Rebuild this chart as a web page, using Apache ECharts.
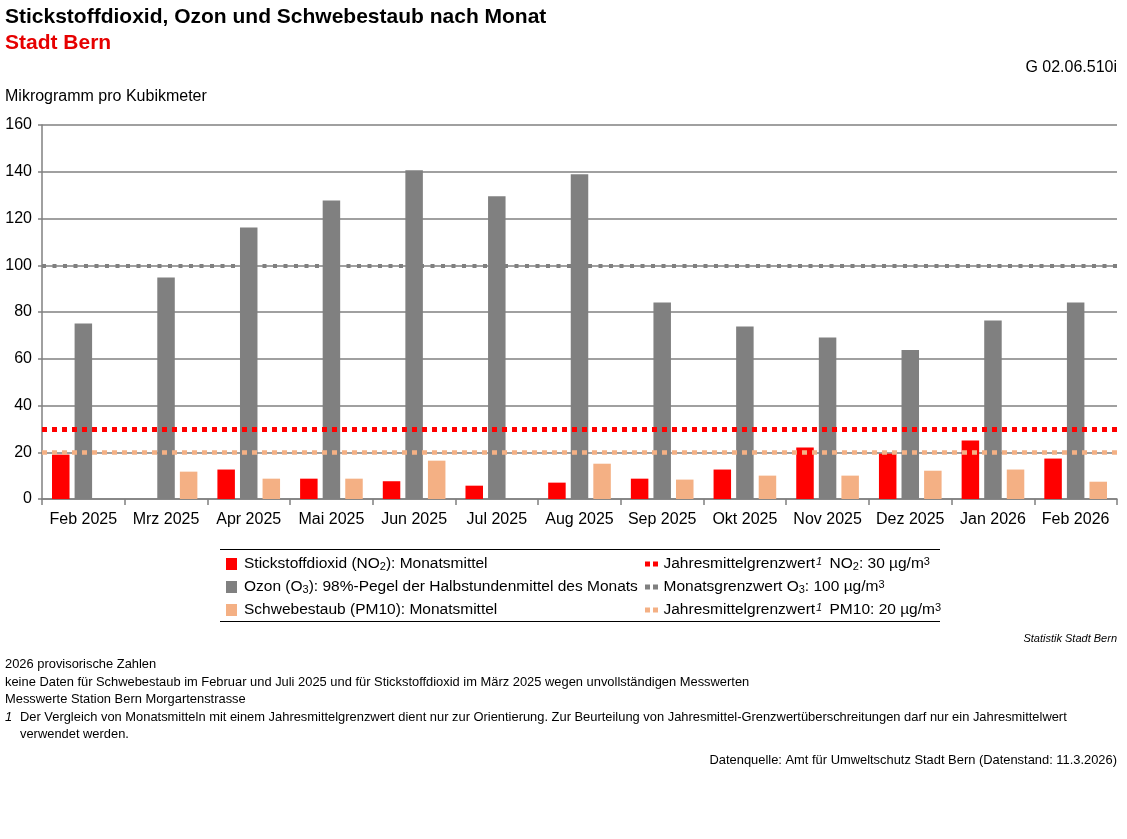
<!DOCTYPE html>
<html>
<head>
<meta charset="utf-8">
<script src="https://cdn.jsdelivr.net/npm/echarts@6/dist/echarts.min.js"></script>
<style>
html,body{margin:0;padding:0;background:#fff;}
#chart{width:1127px;height:839px;}
</style>
</head>
<body>
<div id="chart"></div>
<script>
var categories = ['Feb 2025','Mrz 2025','Apr 2025','Mai 2025','Jun 2025','Jul 2025','Aug 2025','Sep 2025','Okt 2025','Nov 2025','Dez 2025','Jan 2026','Feb 2026'];
var no2 = [19.0, null, 12.6, 8.7, 7.6, 5.7, 7.0, 8.7, 12.6, 22.0, 19.4, 25.0, 17.3];
var o3 = [75.1, 94.8, 116.2, 127.7, 140.6, 129.5, 138.9, 84.1, 73.8, 69.1, 63.7, 76.4, 84.1];
var pm10 = [null, 11.7, 8.7, 8.7, 16.4, null, 15.1, 8.3, 10.0, 10.0, 12.1, 12.6, 7.4];
var limitNO2 = 30;
var limitO3 = 100;
var limitPM10 = 20;
var yTicks = [0, 20, 40, 60, 80, 100, 120, 140, 160];

var FONT = '"Liberation Sans", Arial, sans-serif';
var RED = '#ff0000', GRAY = '#808080', PEACH = '#f4b084';
var richStyles = {
  sub: {fontSize: 11, fontFamily: FONT, color: '#000', verticalAlign: 'bottom', padding: [8, 0, 0, 0]},
  sup: {fontSize: 11, fontFamily: FONT, color: '#000', verticalAlign: 'top', padding: [0, 0, 7, 0]},
  isup: {fontSize: 11, fontFamily: FONT, fontStyle: 'italic', color: '#000', verticalAlign: 'top', padding: [0, 3, 7, 1]}
};
var labelMap = {
  'NO2': 'Stickstoffdioxid (NO{sub|2}): Monatsmittel',
  'O3': 'Ozon (O{sub|3}): 98%-Pegel der Halbstundenmittel des Monats',
  'PM10': 'Schwebestaub (PM10): Monatsmittel',
  'GW_NO2': 'Jahresmittelgrenzwert{isup|1} NO{sub|2}: 30 µg/m{sup|3}',
  'GW_O3': 'Monatsgrenzwert O{sub|3}: 100 µg/m{sup|3}',
  'GW_PM10': 'Jahresmittelgrenzwert{isup|1} PM10: 20 µg/m{sup|3}'
};
var dotsIcon = 'path://M0,0h5v5h-5z M8,0h5v5h-5z';

function limitSeries(name, value, color, width, dash) {
  return {
    name: name, type: 'line', data: [], color: color,
    itemStyle: {color: color},
    markLine: {
      silent: true, symbol: 'none', label: {show: false},
      lineStyle: {color: color, width: width, type: dash, cap: 'butt'},
      emphasis: {disabled: true},
      data: [{yAxis: value}]
    },
    z: 5
  };
}

var chart = echarts.init(document.getElementById('chart'));
var option = {
  animation: false,
  backgroundColor: '#fff',
  textStyle: {fontFamily: FONT},
  grid: {left: 42, right: 10, top: 125, bottom: 340, containLabel: false},
  xAxis: {
    type: 'category', data: categories,
    axisLine: {lineStyle: {color: GRAY, width: 1.5}},
    axisTick: {show: true, interval: 0, length: 6, lineStyle: {color: GRAY, width: 1.5}},
    axisLabel: {interval: 0, color: '#000', fontSize: 16, fontFamily: FONT, margin: 13}
  },
  yAxis: {
    type: 'value', min: yTicks[0], max: yTicks[yTicks.length - 1], interval: 20,
    axisLine: {show: true, lineStyle: {color: GRAY, width: 1.5}},
    axisTick: {show: true, length: 4, lineStyle: {color: GRAY, width: 1.5}},
    splitLine: {lineStyle: {color: GRAY, width: 1.5}},
    axisLabel: {color: '#000', fontSize: 16, fontFamily: FONT, margin: 10}
  },
  legend: [
    {
      left: 226, top: 556, orient: 'vertical', itemGap: 7, itemWidth: 11, itemHeight: 12,
      padding: 0, selectedMode: false, icon: 'rect',
      data: ['NO2', 'O3', 'PM10'],
      formatter: function (n) { return labelMap[n]; },
      textStyle: {fontSize: 15.5, fontFamily: FONT, color: '#000', lineHeight: 16, padding: [0, 0, 0, 2], rich: richStyles}
    },
    {
      left: 645, top: 556, orient: 'vertical', itemGap: 7, itemWidth: 14, itemHeight: 5,
      padding: 0, selectedMode: false,
      data: [
        {name: 'GW_NO2', icon: dotsIcon, itemStyle: {color: RED}},
        {name: 'GW_O3', icon: dotsIcon, itemStyle: {color: GRAY}},
        {name: 'GW_PM10', icon: dotsIcon, itemStyle: {color: PEACH}}
      ],
      formatter: function (n) { return labelMap[n]; },
      textStyle: {fontSize: 15.5, fontFamily: FONT, color: '#000', lineHeight: 16, rich: richStyles}
    }
  ],
  series: [
    {name: 'NO2', type: 'bar', data: no2, itemStyle: {color: RED}, barWidth: 17.5, barGap: '29%', barCategoryGap: '24%'},
    {name: 'O3', type: 'bar', data: o3, itemStyle: {color: GRAY}, barWidth: 17.5, barGap: '29%'},
    {name: 'PM10', type: 'bar', data: pm10, itemStyle: {color: PEACH}, barWidth: 17.5, barGap: '29%'},
    limitSeries('GW_NO2', limitNO2, RED, 5, [5, 5]),
    limitSeries('GW_O3', limitO3, GRAY, 4, [4, 6.5]),
    limitSeries('GW_PM10', limitPM10, PEACH, 4.5, [5, 5])
  ],
  graphic: [
    {type: 'text', left: 5, top: 7, style: {text: 'Stickstoffdioxid, Ozon und Schwebestaub nach Monat', font: 'bold 21px ' + FONT, fill: '#000'}},
    {type: 'text', left: 5, top: 33, style: {text: 'Stadt Bern', font: 'bold 21px ' + FONT, fill: '#e60000'}},
    {type: 'text', right: 10, top: 60, style: {text: 'G 02.06.510i', font: '16px ' + FONT, fill: '#000'}},
    {type: 'text', left: 5, top: 89, style: {text: 'Mikrogramm pro Kubikmeter', font: '16px ' + FONT, fill: '#000'}},
    {type: 'line', shape: {x1: 220, y1: 549.5, x2: 940, y2: 549.5}, style: {stroke: '#000', lineWidth: 1}},
    {type: 'line', shape: {x1: 220, y1: 621.5, x2: 940, y2: 621.5}, style: {stroke: '#000', lineWidth: 1}},
    {type: 'text', right: 10, top: 633, style: {text: 'Statistik Stadt Bern', font: 'italic 11px ' + FONT, fill: '#000'}},
    {type: 'text', left: 5, top: 658, style: {text: '2026 provisorische Zahlen', font: '12.9px ' + FONT, fill: '#000'}},
    {type: 'text', left: 5, top: 676, style: {text: 'keine Daten für Schwebestaub im Februar und Juli 2025 und für Stickstoffdioxid im März 2025 wegen unvollständigen Messwerten', font: '12.9px ' + FONT, fill: '#000'}},
    {type: 'text', left: 5, top: 693, style: {text: 'Messwerte Station Bern Morgartenstrasse', font: '12.9px ' + FONT, fill: '#000'}},
    {type: 'text', left: 5, top: 711, style: {text: '1', font: 'italic 12.9px ' + FONT, fill: '#000'}},
    {type: 'text', left: 20, top: 711, style: {text: 'Der Vergleich von Monatsmitteln mit einem Jahresmittelgrenzwert dient nur zur Orientierung. Zur Beurteilung von Jahresmittel-Grenzwertüberschreitungen darf nur ein Jahresmittelwert', font: '12.9px ' + FONT, fill: '#000'}},
    {type: 'text', left: 20, top: 728, style: {text: 'verwendet werden.', font: '12.9px ' + FONT, fill: '#000'}},
    {type: 'text', right: 10, top: 754, style: {text: 'Datenquelle: Amt für Umweltschutz Stadt Bern (Datenstand: 11.3.2026)', font: '12.9px ' + FONT, fill: '#000'}}
  ]
};
chart.setOption(option);
</script>
</body>
</html>
